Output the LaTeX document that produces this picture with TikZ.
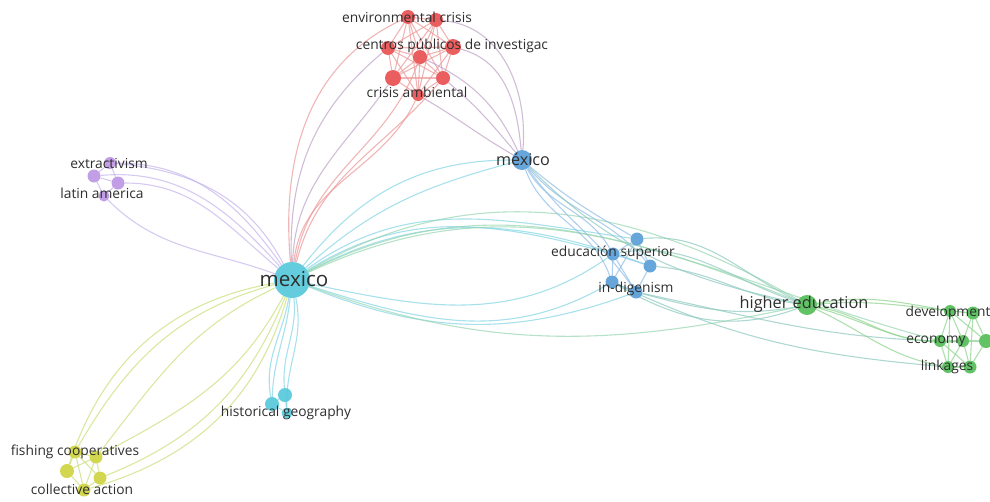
\documentclass[tikz,border=0pt]{standalone}
\usepackage{fontspec}
\setmainfont{Open Sans}
\definecolor{cred}{RGB}{232,80,82}
\definecolor{cpur}{RGB}{188,150,228}
\definecolor{ccyan}{RGB}{86,200,218}
\definecolor{cblue}{RGB}{90,158,216}
\definecolor{cgreen}{RGB}{84,190,88}
\definecolor{cyel}{RGB}{206,212,64}
\definecolor{ered}{RGB}{236,150,150}
\definecolor{epur}{RGB}{196,180,236}
\definecolor{ecyan}{RGB}{130,212,228}
\definecolor{eblue}{RGB}{140,188,228}
\definecolor{egreen}{RGB}{140,210,140}
\definecolor{eyel}{RGB}{200,222,120}
\definecolor{erb}{RGB}{190,160,200}
\definecolor{ecg}{RGB}{150,214,176}
\definecolor{ebg}{RGB}{140,200,190}
\pgfdeclarelayer{edges}
\pgfsetlayers{edges,main}
\tikzset{
  ball/.style={circle,fill=#1,fill opacity=0.92,inner sep=0pt},
  lab/.style={inner sep=0pt,text=black!82,font=\fontsize{13.8}{13.8}\selectfont},
  ed/.style={draw=#1,line width=1.1pt,draw opacity=0.7},
}
\begin{document}
\begin{tikzpicture}[x=1pt,y=1pt]
\useasboundingbox (0,0) rectangle (990,-501);
% ---------- nodes ----------
% red
\node[ball=cred,minimum size=14pt] (r1) at (408,-17) {};
\node[ball=cred,minimum size=14pt] (r2) at (436,-20) {};
\node[ball=cred,minimum size=14pt] (r3) at (388,-48) {};
\node[ball=cred,minimum size=16pt] (r4) at (453,-47) {};
\node[ball=cred,minimum size=14pt] (r5) at (420,-57) {};
\node[ball=cred,minimum size=16pt] (r6) at (393,-78) {};
\node[ball=cred,minimum size=14pt] (r7) at (443,-78) {};
\node[ball=cred,minimum size=12pt] (r8) at (418,-95) {};
% purple
\node[ball=cpur,minimum size=12pt] (p1) at (110,-163) {};
\node[ball=cpur,minimum size=13pt] (p2) at (94,-176) {};
\node[ball=cpur,minimum size=13pt] (p3) at (118,-183) {};
\node[ball=cpur,minimum size=11pt] (p4) at (104,-196) {};
% mexico
\node[ball=ccyan,minimum size=36pt] (mx) at (292,-280) {};
\node[ball=cblue,minimum size=20pt] (mx2) at (522,-160) {};
% blue
\node[ball=cblue,minimum size=13pt] (b1) at (637,-239) {};
\node[ball=cblue,minimum size=13pt] (b2) at (613,-254) {};
\node[ball=cblue,minimum size=13pt] (b3) at (650,-266) {};
\node[ball=cblue,minimum size=13pt] (b4) at (612,-282) {};
\node[ball=cblue,minimum size=13pt] (b5) at (636,-292) {};
% higher education
\node[ball=cgreen,minimum size=20pt] (he) at (807,-305) {};
% green
\node[ball=cgreen,minimum size=12pt] (g1) at (950,-311) {};
\node[ball=cgreen,minimum size=13pt] (g2) at (973,-313) {};
\node[ball=cgreen,minimum size=12pt] (g3) at (940,-341) {};
\node[ball=cgreen,minimum size=12pt] (g4) at (963,-341) {};
\node[ball=cgreen,minimum size=14pt] (g5) at (986,-341) {};
\node[ball=cgreen,minimum size=12pt] (g6) at (948,-367) {};
\node[ball=cgreen,minimum size=13pt] (g7) at (970,-367) {};
% historical geography
\node[ball=ccyan,minimum size=14pt] (h1) at (285,-395) {};
\node[ball=ccyan,minimum size=14pt] (h2) at (272,-404) {};
\node[ball=ccyan,minimum size=11pt] (h3) at (287,-413) {};
% yellow
\node[ball=cyel,minimum size=13pt] (y1) at (75,-452) {};
\node[ball=cyel,minimum size=13pt] (y2) at (96,-457) {};
\node[ball=cyel,minimum size=14pt] (y3) at (67,-471) {};
\node[ball=cyel,minimum size=13pt] (y4) at (100,-478) {};
\node[ball=cyel,minimum size=13pt] (y5) at (84,-490) {};
% ---------- edges ----------
\begin{pgfonlayer}{edges}
% intra red
\foreach \a/\b in {r1/r2,r1/r3,r1/r4,r1/r5,r1/r6,r1/r7,r1/r8,r2/r3,r2/r4,r2/r5,r2/r6,r2/r7,r2/r8,r3/r4,r3/r5,r3/r6,r3/r7,r3/r8,r4/r5,r4/r6,r4/r7,r4/r8,r5/r6,r5/r7,r5/r8,r6/r7,r6/r8,r7/r8}
  \draw[ed=ered] (\a) -- (\b);
% intra purple
\foreach \a/\b in {p1/p2,p1/p3,p2/p4,p3/p4,p2/p3}
  \draw[ed=epur] (\a) -- (\b);
% intra blue
\foreach \a/\b in {b1/b2,b1/b3,b2/b3,b2/b4,b3/b5,b4/b5,b2/b5,b1/b4}
  \draw[ed=eblue] (\a) -- (\b);
% intra green
\foreach \a/\b in {g1/g2,g1/g3,g1/g4,g2/g4,g2/g5,g3/g4,g4/g5,g3/g6,g4/g6,g4/g7,g6/g7,g5/g7,g1/g6,g2/g7,g3/g7,g1/g5}
  \draw[ed=egreen] (\a) -- (\b);
% intra yellow
\foreach \a/\b in {y1/y2,y1/y3,y2/y4,y3/y5,y4/y5,y1/y4,y2/y3,y1/y5,y2/y5}
  \draw[ed=eyel] (\a) -- (\b);
\draw[ed=ecyan] (h1) -- (h2);
\draw[ed=ecyan] (h2) -- (h3);
\draw[ed=ecyan] (h1) -- (h3);
% purple -> mexico
\draw[ed=epur] (p1) to[out=0,in=125] (mx);
\draw[ed=epur] (p2) to[out=5,in=132] (mx);
\draw[ed=epur] (p3) to[out=0,in=140] (mx);
\draw[ed=epur] (p4) to[out=-45,in=160] (mx);
\draw[ed=epur] (p1) to[out=-5,in=118] (mx);
% mexico -> red
\draw[ed=erb] (mx) to[out=92,in=-140] (r3);
\draw[ed=erb] (mx) to[out=88,in=-125] (r6);
\draw[ed=ered] (mx) to[out=84,in=-115] (r8);
\draw[ed=ered] (mx) to[out=80,in=-110] (r5);
\draw[ed=ered] (mx) to[out=95,in=-155] (r1);
\draw[ed=ered] (mx) to[out=76,in=-130] (r7);
% mexico -> mexico
\draw[ed=ecyan] (mx) to[out=52,in=180] (mx2);
\draw[ed=ecyan] (mx) to[out=42,in=195] (mx2);
% mexico -> blue (above)
\draw[ed=ecyan] (mx) to[out=32,in=165] (b2);
\draw[ed=ecyan] (mx) to[out=36,in=172] (b1);
\draw[ed=ecyan] (mx) to[out=28,in=160] (b3);
% mexico -> blue (below)
\draw[ed=ecyan] (mx) to[out=-18,in=-150] (b4);
\draw[ed=ecyan] (mx) to[out=-22,in=-160] (b5);
\draw[ed=ecyan] (mx) to[out=-12,in=-145] (b2);
% mexico -> higher education
\draw[ed=ecg] (mx) to[out=30,in=150] (he);
\draw[ed=ecg] (mx) to[out=25,in=158] (he);
\draw[ed=ecg] (mx) to[out=-20,in=-168] (he);
\draw[ed=ecg] (mx) to[out=27,in=165] (g3);
% mexico -> historical geography
\draw[ed=ecyan] (mx) to[out=-84,in=95] (h1);
\draw[ed=ecyan] (mx) to[out=-96,in=88] (h2);
\draw[ed=ecyan] (mx) to[out=-78,in=92] (h3);
\draw[ed=ecyan] (mx) to[out=-100,in=100] (h2);
% mexico -> yellow
\draw[ed=eyel] (mx) to[out=-165,in=60] (y1);
\draw[ed=eyel] (mx) to[out=-155,in=52] (y2);
\draw[ed=eyel] (mx) to[out=-170,in=72] (y3);
\draw[ed=eyel] (y4) to[out=22,in=-112] (mx);
\draw[ed=eyel] (y2) to[out=28,in=-118] (mx);
\draw[ed=eyel] (y5) to[out=16,in=-106] (mx);
% red -> mexico (accent)
\draw[ed=erb] (r4) to[out=-15,in=95] (mx2);
\draw[ed=erb] (r2) to[out=-5,in=85] (mx2);
\draw[ed=erb] (r7) to[out=-40,in=130] (mx2);
\draw[ed=erb] (r8) to[out=-30,in=150] (mx2);
\draw[ed=erb] (r5) to[out=-25,in=115] (mx2);
% mexico (accent) -> blue
\draw[ed=eblue] (mx2) to[out=-40,in=150] (b1);
\draw[ed=eblue] (mx2) to[out=-60,in=120] (b2);
\draw[ed=eblue] (mx2) to[out=-50,in=130] (b3);
\draw[ed=eblue] (mx2) to[out=-70,in=110] (b4);
\draw[ed=eblue] (mx2) to[out=-55,in=125] (b5);
\draw[ed=ebg] (mx2) to[out=-45,in=168] (he);
% blue -> higher education
\draw[ed=ebg] (b1) to[out=5,in=155] (he);
\draw[ed=ebg] (b3) to[out=-5,in=172] (he);
\draw[ed=ebg] (b5) to[out=-15,in=-170] (he);
\draw[ed=ebg] (b4) to[out=-30,in=-160] (he);
\draw[ed=ebg] (b2) to[out=10,in=162] (he);
\draw[ed=ebg] (b5) to[out=-12,in=178] (g3);
\draw[ed=ebg] (b4) to[out=-25,in=175] (g6);
% higher education -> green
\draw[ed=egreen] (he) to[out=10,in=170] (g1);
\draw[ed=egreen] (he) to[out=-10,in=180] (g3);
\draw[ed=egreen] (he) to[out=-25,in=170] (g6);
\draw[ed=egreen] (he) to[out=-15,in=185] (g4);
\draw[ed=egreen] (he) to[out=5,in=175] (g2);
\end{pgfonlayer}
% ---------- labels ----------
\node[lab] (l1) at (407,-17) {environmental crisis};
\node[lab] (l2) at (452,-46) {centros públicos de investigac};
\node[lab] (l3) at (417,-92) {crisis ambiental};
\node[lab] (l4) at (109,-163) {extractivism};
\node[lab] (l5) at (102,-193) {latin america};
\node[lab,font=\fontsize{20.6}{20.6}\selectfont] (l6) at (294,-279) {mexico};
\node[lab,font=\fontsize{16.2}{16.2}\selectfont] (l7) at (523,-159) {méxico};
\node[lab] (l8) at (613,-253) {educación superior};
\node[lab] (l9) at (636,-289) {in-digenism};
\node[lab,font=\fontsize{16.3}{16.3}\selectfont] (l10) at (804,-304) {higher education};
\node[lab] (l11) at (948,-313) {development};
\node[lab] (l12) at (936,-341) {economy};
\node[lab] (l13) at (947,-367) {linkages};
\node[lab] (l14) at (286,-413) {historical geography};
\node[lab] (l15) at (75,-452) {fishing cooperatives};
\node[lab] (l16) at (82,-489) {collective action};
\end{tikzpicture}
\end{document}
